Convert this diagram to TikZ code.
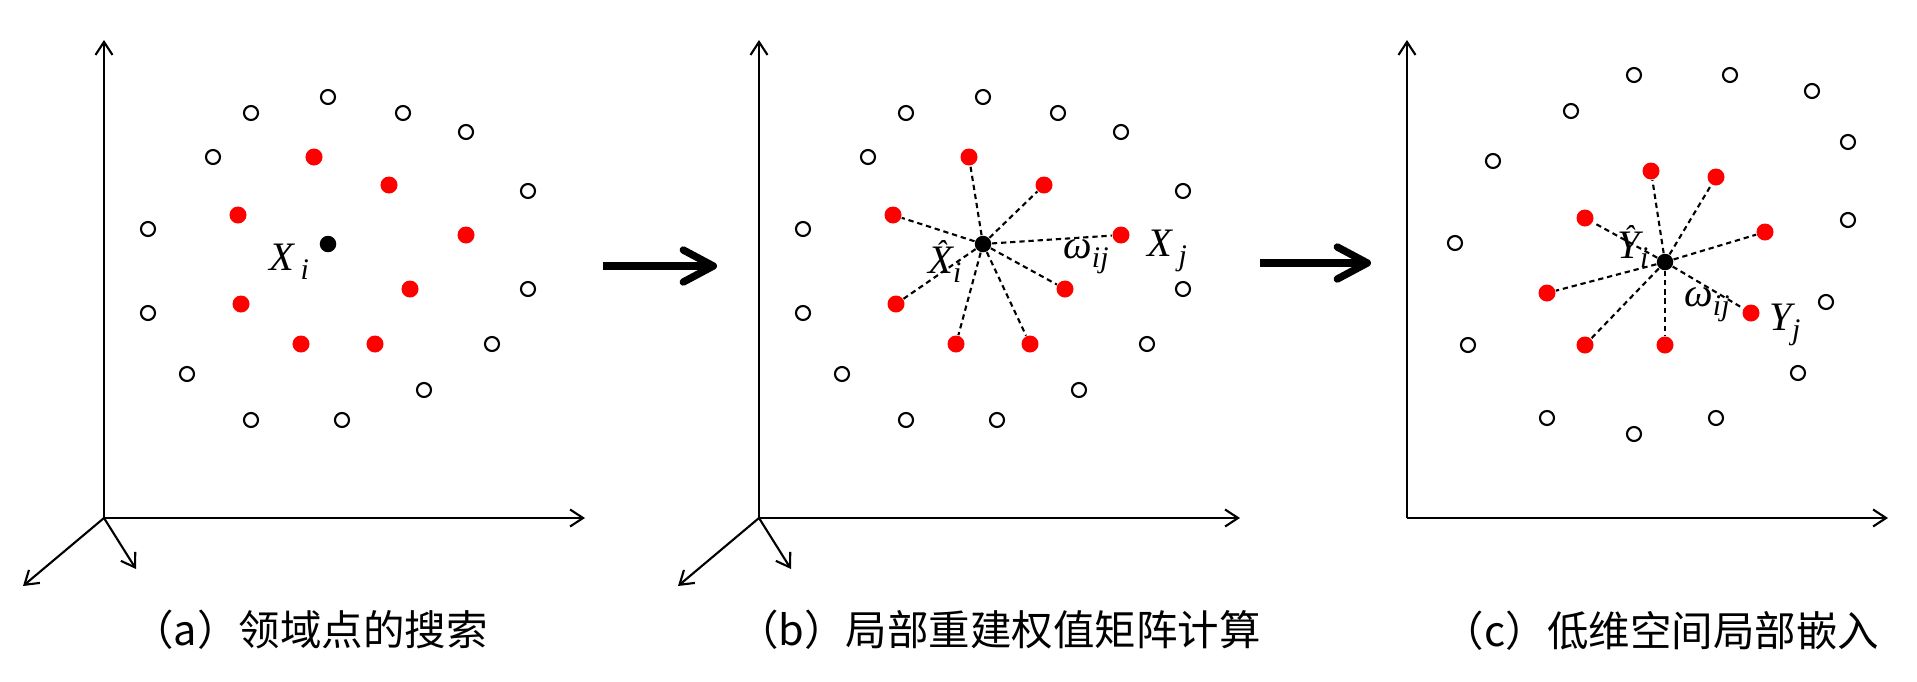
\documentclass[tikz,border=0pt]{standalone}
\usepackage{fontspec}
\setmainfont{Liberation Serif}
\newfontfamily\cjk{Noto Sans CJK SC}
\usetikzlibrary{arrows.meta}
\newcommand{\lsub}[1]{\raisebox{-0.5ex}{\fontsize{8.5}{8.5}\selectfont\itshape #1}}
\newcommand{\lhat}[1]{\ooalign{#1\cr\hidewidth\raisebox{0.62ex}{\fontsize{9}{9}\selectfont ˆ}\hidewidth\cr}}
\begin{document}
\begin{tikzpicture}[x=0.01cm,y=-0.01cm,
  axisline/.style={line width=0.6pt,-{Straight Barb[length=0.13cm,width=0.17cm]}},
  bigarrow/.style={line width=2.1pt,-{Straight Barb[length=0.3cm,width=0.32cm,round]}},
  opendot/.style={circle,draw,line width=0.6pt,minimum size=0.14cm,inner sep=0pt},
  reddot/.style={circle,fill=red,minimum size=0.17cm,inner sep=0pt},
  blackdot/.style={circle,fill=black,minimum size=0.165cm,inner sep=0pt},
  link/.style={line width=0.6pt,dash pattern=on 1.5pt off 1.1pt},
  lab/.style={font=\fontsize{11.5}{11.5}\selectfont\itshape,inner sep=0pt},
  captext/.style={font=\cjk\fontsize{11.8}{12}\selectfont,inner sep=0pt}]
\useasboundingbox (0,0) rectangle (1917,681);
\fill[white] (0,0) rectangle (1917,681);

% ---------- panels a and b (same point cloud) ----------
\foreach \pn/\dx in {a/0,b/655}{
\begin{scope}[shift={(\dx,0)}]
  \coordinate (\pn o) at (104,518);
  \coordinate (\pn y) at (104,40);
  \coordinate (\pn x) at (585,518);
  \coordinate (\pn z1) at (23,586);
  \coordinate (\pn z2) at (136,569);
  \draw[axisline] (\pn o) -- (\pn y);
  \draw[axisline] (\pn o) -- (\pn x);
  \draw[axisline] (\pn o) -- (\pn z1);
  \draw[axisline] (\pn o) -- (\pn z2);
  \foreach \p [count=\k] in {(328,97),(251,113),(403,113),(466,132),(213,157),(528,191),(148,229),(528,289),(148,313),(492,344),(187,374),(424,390),(251,420),(342,420)}
    \node[opendot] (\pn w\k) at \p {};
  \foreach \p [count=\k] in {(314,157),(389,185),(238,215),(466,235),(241,304),(410,289),(301,344),(375,344)}
    \node[reddot] (\pn r\k) at \p {};
  \node[blackdot] (\pn c) at (328,244) {};
\end{scope}
}
\foreach \k in {1,...,8} \draw[link] (bc) -- (br\k);

\node[lab] (xa) at (289,262) {X\,\lsub{i}};
\node[lab] (xb) at (945,265) {\lhat{X}\lsub{i}};
\node[lab] (wb) at (1086,257) {ω\lsub{ij}};
\node[lab] (xj) at (1167,251) {X\,\lsub{j}};

% ---------- panel c ----------
\coordinate (co) at (1407,518);
\coordinate (cy) at (1407,40);
\coordinate (cx) at (1888,518);
\draw[axisline] (co) -- (cy);
\draw[axisline] (co) -- (cx);
\foreach \p [count=\k] in {(1634,75),(1730,75),(1812,91),(1571,111),(1848,142),(1493,161),(1848,220),(1455,243),(1826,302),(1468,345),(1798,373),(1547,418),(1716,418),(1634,434)}
  \node[opendot] (cw\k) at \p {};
\foreach \p [count=\k] in {(1651,171),(1716,177),(1585,218),(1765,232),(1547,293),(1751,313),(1585,345),(1665,345)}
  \node[reddot] (cr\k) at \p {};
\node[blackdot] (cc) at (1665,262) {};
\foreach \k in {1,...,8} \draw[link] (cc) -- (cr\k);

\node[lab] (yc) at (1633,250) {\lhat{Y}\lsub{i}};
\node[lab] (wc) at (1707,305) {ω\lsub{ij}};
\node[lab] (yj) at (1785,325) {Y\lsub{j}};

% ---------- arrows between panels ----------
\coordinate (s1) at (603,266);
\coordinate (e1) at (717,266);
\coordinate (s2) at (1260,263);
\coordinate (e2) at (1371,263);
\draw[bigarrow] (s1) -- (e1);
\draw[bigarrow] (s2) -- (e2);

% ---------- captions ----------
\node[captext] (capa) at (310,630) {（a）领域点的搜索};
\node[captext] (capb) at (999,630) {（b）局部重建权值矩阵计算};
\node[captext] (capc) at (1661,631) {（c）低维空间局部嵌入};
\end{tikzpicture}
\end{document}
